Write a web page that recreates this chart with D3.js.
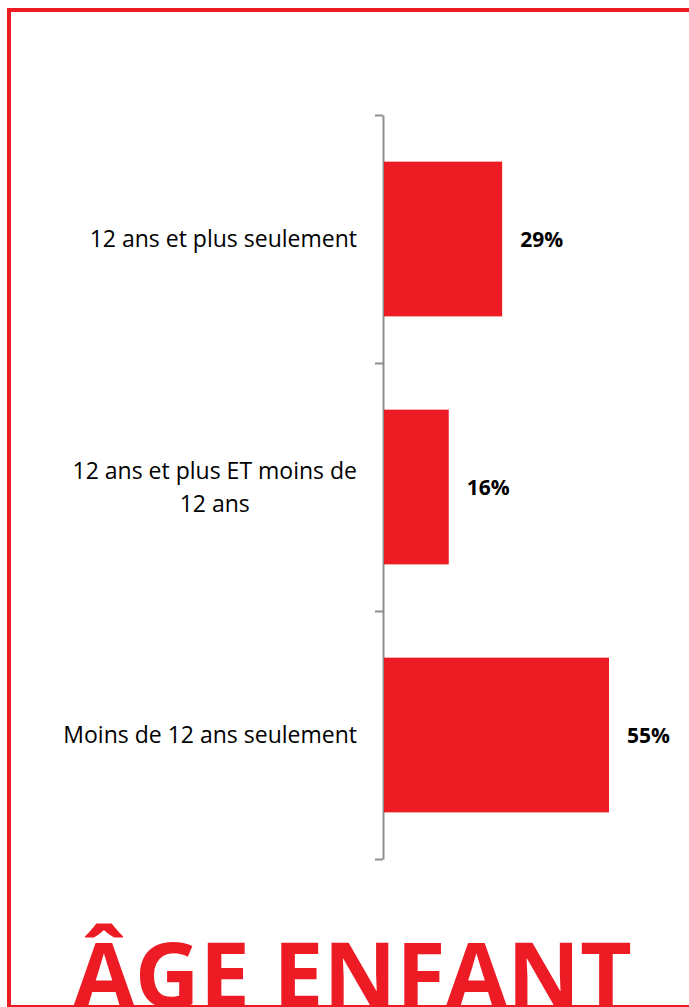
<!DOCTYPE html>
<html>
<head>
<meta charset="utf-8">
<script src="https://cdn.jsdelivr.net/npm/d3@7"></script>
<style>
  html, body { margin: 0; padding: 0; background: #ffffff; }
  svg { display: block; }
</style>
</head>
<body>
<div id="chart_age"></div>
<script>

// ------------------------------------------------------------------------ //
// DATA
// ------------------------------------------------------------------------ //

var categories = [
  ["12 ans et plus seulement"],
  ["12 ans et plus ET moins de", "12 ans"],
  ["Moins de 12 ans seulement"]
]
var values = [0.29, 0.16, 0.55]
var valueLabels = ["29%", "16%", "55%"]
var titleText = "ÂGE ENFANT"

var red = "#ED1C24"
var fontFamily = "'Open Sans', Lato, sans-serif"

// ------------------------------------------------------------------------ //
// SVG AREA
// ------------------------------------------------------------------------ //

var totalWidth = 689,
  totalHeight = 1007

var margin = {top: 115, left: 383, bottom: 148}
var plotHeight = totalHeight - margin.top - margin.bottom

var svg = d3.select("#chart_age")
  .append("svg")
    .attr("width", totalWidth)
    .attr("height", totalHeight)

// red frame (right side runs out of the picture)
svg.append("rect")
  .attr("x", 9)
  .attr("y", 10)
  .attr("width", 720)
  .attr("height", 997)
  .style("fill", "none")
  .style("stroke", red)
  .style("stroke-width", 4)

var g = svg.append("g")
  .attr("transform", "translate(" + margin.left + "," + margin.top + ")")

// ------------------------------------------------------------------------ //
// AXIS AND SCALES
// ------------------------------------------------------------------------ //

var idx = d3.range(categories.length)

var y = d3.scaleBand()
  .domain(idx)
  .range([0, plotHeight])
  .paddingInner(0.376)
  .paddingOuter(0.188)

var x = d3.scaleLinear()
  .domain([0, 0.55])
  .range([0, 226])

// category axis: ticks sit between the categories
var yEdges = d3.scaleLinear()
  .domain([0, categories.length])
  .range([0, plotHeight])

var yAxis = g.append("g")
  .call(d3.axisLeft(yEdges)
    .tickValues(d3.range(categories.length + 1))
    .tickSizeInner(8)
    .tickSizeOuter(0)
    .tickFormat(""))

yAxis.select(".domain")
  .style("stroke", "#8f8f8f")
  .style("stroke-width", 2)
yAxis.selectAll(".tick line")
  .style("stroke", "#8f8f8f")
  .style("stroke-width", 2)

// ------------------------------------------------------------------------ //
// SHAPES
// ------------------------------------------------------------------------ //

g.selectAll(".bar")
  .data(idx)
  .enter()
  .append("rect")
    .attr("class", "bar")
    .attr("x", 1)
    .attr("y", function(i) { return y(i) })
    .attr("width", function(i) { return x(values[i]) - 1 })
    .attr("height", y.bandwidth())
    .style("fill", red)

// value labels
g.selectAll(".valueLabel")
  .data(idx)
  .enter()
  .append("text")
    .attr("class", "valueLabel")
    .attr("x", function(i) { return x(values[i]) + 18 })
    .attr("y", function(i) { return y(i) + y.bandwidth() / 2 + 8 })
    .text(function(i) { return valueLabels[i] })
    .style("font-family", fontFamily)
    .style("font-size", "21px")
    .style("font-weight", "bold")
    .style("fill", "#000000")

// category labels
var catLabels = g.selectAll(".catLabel")
  .data(idx)
  .enter()
  .append("text")
    .attr("class", "catLabel")
    .attr("text-anchor", "middle")
    .style("font-family", fontFamily)
    .style("font-size", "23px")
    .style("fill", "#000000")

catLabels.each(function(i) {
  var lines = categories[i]
  var lineH = 33
  var cy = y(i) + y.bandwidth() / 2 + 8 - (lines.length - 1) * lineH / 2
  var t = d3.select(this)
  lines.forEach(function(line, k) {
    t.append("tspan")
      .attr("x", -160)
      .attr("y", cy + k * lineH)
      .text(line)
  })
})

// right align the whole label block at x = -26, keeping lines centred
catLabels.each(function() {
  var bb = this.getBBox()
  var shift = -26 - (bb.x + bb.width)
  d3.select(this).selectAll("tspan").attr("x", -160 + shift)
})

// ------------------------------------------------------------------------ //
// TITLE
// ------------------------------------------------------------------------ //

svg.append("text")
  .attr("x", 73)
  .attr("y", 1007)
  .attr("textLength", 559)
  .attr("lengthAdjust", "spacingAndGlyphs")
  .text(titleText)
  .style("font-family", fontFamily)
  .style("font-size", "89px")
  .style("font-weight", "bold")
  .style("fill", red)

</script>
</body>
</html>
